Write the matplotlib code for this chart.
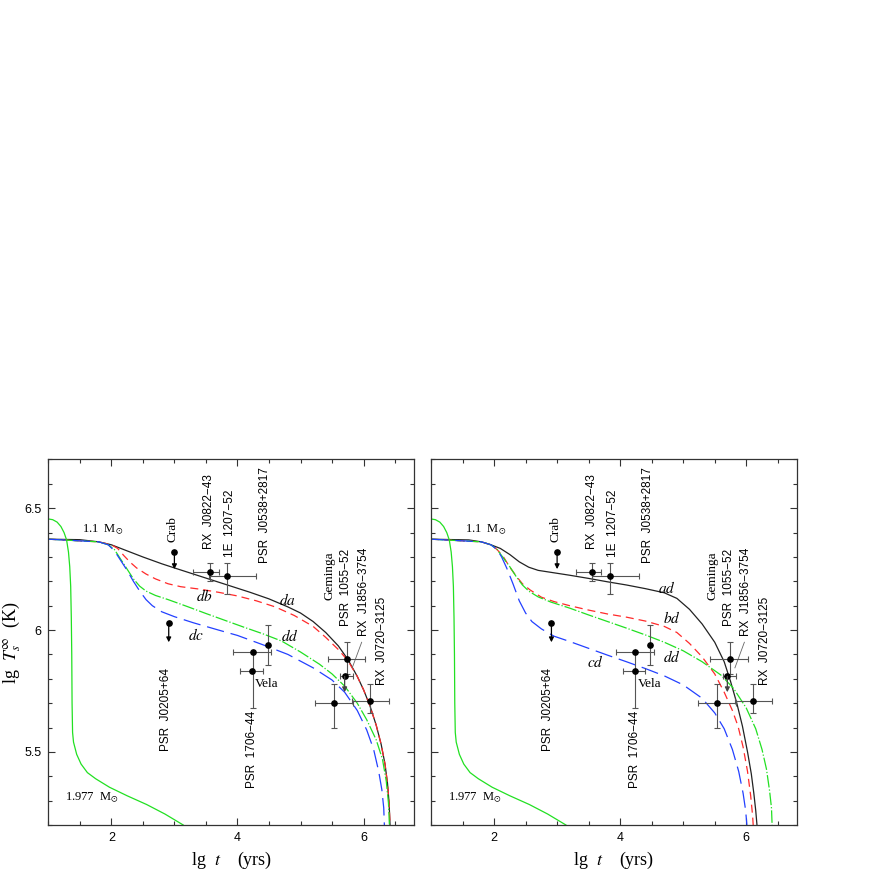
import matplotlib
matplotlib.use('Agg')
import matplotlib.pyplot as plt
from matplotlib.ticker import MultipleLocator, FuncFormatter

plt.rcParams['mathtext.fontset'] = 'stix'
plt.rcParams['font.family'] = ['Liberation Sans', 'DejaVu Sans']

SERIF = ['Liberation Serif', 'DejaVu Serif']

# наблюдения (lg t, lg Ts)
obs_name = ['Crab', 'PSR J0205+64', 'RX J0822-43', '1E 1207-52', 'PSR J0538+2817', 'Vela',
            'PSR 1706-44', 'Geminga', 'RX J1856-3754', 'PSR 1055-52', 'RX J0720-3125']
obs_lgt = [3.00, 2.91, 3.56, 3.84, 4.48, 4.23, 4.24, 5.53, 5.70, 5.74, 6.11]
obs_t_lo = [None, None, 3.30, 3.55, None, 4.04, 3.93, 5.23, 5.63, 5.43, 5.82]
obs_t_hi = [None, None, 3.70, 4.30, None, 4.40, 4.53, 5.84, 5.84, 6.03, 6.41]
obs_lgT = [6.32, 6.03, 6.24, 6.22, 5.94, 5.83, 5.91, 5.70, 5.81, 5.88, 5.71]
obs_T_lo = [None, None, 6.20, 6.15, 5.855, None, 5.68, 5.60, None, 5.82, 5.66]
obs_T_hi = [None, None, 6.275, 6.275, 6.02, None, 5.91, 5.78, None, 5.95, 5.78]
obs_limit = [6.25, 5.95, None, None, None, None, None, None, 5.745, None, None]

# левая панель: 1.1 Msun, модели da, db, dc, dd
da_t = [1.0, 1.5, 1.8, 2.0, 2.2, 2.5, 2.8, 3.0, 3.3, 3.6, 3.9, 4.2, 4.5, 4.8, 5.0, 5.2, 5.4,
        5.6, 5.75, 5.9, 6.0, 6.1, 6.2, 6.28, 6.34, 6.38, 6.405, 6.42]
da_T = [6.373, 6.371, 6.362, 6.35, 6.33, 6.30, 6.272, 6.255, 6.23, 6.205, 6.18, 6.155, 6.128,
        6.095, 6.07, 6.035, 5.99, 5.935, 5.88, 5.81, 5.755, 5.69, 5.61, 5.53, 5.45, 5.37,
        5.29, 5.2]
db_t = [1.0, 1.8, 2.0, 2.1, 2.2, 2.3, 2.4, 2.55, 2.7, 2.9, 3.1, 3.4, 3.7, 4.0, 4.3, 4.6, 4.9,
        5.2, 5.4, 5.6, 5.75, 5.9, 6.0, 6.1, 6.2, 6.28, 6.34, 6.38, 6.405, 6.42]
db_T = [6.373, 6.362, 6.35, 6.335, 6.305, 6.278, 6.255, 6.23, 6.21, 6.19, 6.178, 6.168, 6.155,
        6.14, 6.12, 6.095, 6.06, 6.015, 5.97, 5.92, 5.875, 5.81, 5.755, 5.69, 5.61, 5.53,
        5.45, 5.37, 5.29, 5.2]
dc_t = [1.0, 1.8, 1.95, 2.05, 2.15, 2.25, 2.35, 2.45, 2.55, 2.65, 2.8, 3.0, 3.3, 3.7, 4.0,
        4.4, 4.8, 5.2, 5.5, 5.7, 5.9, 6.05, 6.16, 6.24, 6.29, 6.32, 6.33]
dc_T = [6.373, 6.362, 6.35, 6.325, 6.285, 6.245, 6.20, 6.16, 6.125, 6.10, 6.075, 6.055, 6.03,
        6.0, 5.978, 5.94, 5.90, 5.845, 5.795, 5.745, 5.67, 5.59, 5.51, 5.42, 5.345, 5.27, 5.2]
dd_t = [1.0, 1.8, 1.95, 2.05, 2.15, 2.25, 2.35, 2.45, 2.55, 2.7, 2.9, 3.2, 3.5, 3.8, 4.1, 4.4,
        4.7, 5.0, 5.3, 5.5, 5.7, 5.9, 6.05, 6.2, 6.3, 6.36, 6.395, 6.41]
dd_T = [6.373, 6.362, 6.35, 6.33, 6.29, 6.25, 6.21, 6.18, 6.16, 6.142, 6.125, 6.097, 6.068,
        6.04, 6.012, 5.985, 5.955, 5.91, 5.86, 5.82, 5.77, 5.70, 5.632, 5.55, 5.47, 5.38,
        5.29, 5.2]

# правая панель: модели ad, bd, cd, dd
ad_t = [1.0, 1.6, 1.8, 1.95, 2.1, 2.25, 2.4, 2.55, 2.7, 2.9, 3.2, 3.5, 3.8, 4.1, 4.4, 4.7,
        4.9, 5.1, 5.3, 5.5, 5.65, 5.75, 5.85, 5.94, 6.02, 6.08, 6.12, 6.15, 6.17]
ad_T = [6.373, 6.37, 6.362, 6.35, 6.335, 6.31, 6.28, 6.258, 6.245, 6.237, 6.225, 6.212, 6.198,
        6.185, 6.17, 6.153, 6.13, 6.085, 6.025, 5.95, 5.87, 5.79, 5.70, 5.605, 5.50, 5.41,
        5.33, 5.26, 5.2]
bd_t = [1.0, 1.8, 1.95, 2.05, 2.15, 2.25, 2.35, 2.45, 2.57, 2.75, 2.95, 3.2, 3.5, 3.8, 4.1,
        4.4, 4.7, 4.9, 5.1, 5.3, 5.5, 5.65, 5.78, 5.87, 5.95, 6.02, 6.07, 6.1, 6.11]
bd_T = [6.373, 6.362, 6.35, 6.33, 6.30, 6.258, 6.222, 6.19, 6.165, 6.135, 6.117, 6.10, 6.082,
        6.066, 6.053, 6.037, 6.015, 5.99, 5.945, 5.89, 5.82, 5.745, 5.67, 5.605, 5.52, 5.42,
        5.32, 5.24, 5.2]
cd_t = [1.0, 1.8, 1.95, 2.05, 2.12, 2.2, 2.3, 2.4, 2.5, 2.6, 2.75, 2.95, 3.2, 3.5, 3.8, 4.1,
        4.4, 4.7, 5.0, 5.3, 5.5, 5.65, 5.78, 5.88, 5.95, 5.99, 6.01]
cd_T = [6.373, 6.362, 6.35, 6.33, 6.30, 6.255, 6.19, 6.12, 6.07, 6.035, 6.005, 5.975, 5.953,
        5.925, 5.897, 5.87, 5.842, 5.812, 5.775, 5.72, 5.66, 5.595, 5.51, 5.42, 5.33, 5.26, 5.2]
dd2_t = [1.0, 1.8, 1.95, 2.05, 2.15, 2.25, 2.35, 2.45, 2.55, 2.7, 2.9, 3.2, 3.5, 3.8, 4.1,
         4.4, 4.7, 5.0, 5.3, 5.6, 5.8, 6.0, 6.15, 6.25, 6.32, 6.37, 6.4, 6.41]
dd2_T = [6.373, 6.362, 6.35, 6.33, 6.295, 6.26, 6.22, 6.185, 6.16, 6.136, 6.115, 6.09, 6.062,
         6.035, 6.008, 5.98, 5.95, 5.915, 5.87, 5.815, 5.76, 5.68, 5.595, 5.51, 5.43, 5.34,
         5.27, 5.2]

# 1.977 Msun (одинакова на обеих панелях)
m2_t = [1.0, 1.07, 1.14, 1.2, 1.25, 1.29, 1.32, 1.34, 1.355, 1.365, 1.372, 1.377, 1.385, 1.40,
        1.45, 1.52, 1.62, 1.75, 1.97, 2.25, 2.56, 2.85, 3.14]
m2_T = [6.456, 6.453, 6.443, 6.425, 6.40, 6.37, 6.32, 6.26, 6.18, 6.05, 5.9, 5.7, 5.58, 5.54,
        5.49, 5.45, 5.415, 5.39, 5.355, 5.32, 5.284, 5.245, 5.2]

RED = '#ff2a2a'
GREEN = '#22e022'
BLUE = '#2340ff'
LW = 0.9


def draw_obs(ax):
    for i in range(len(obs_name)):
        x, y = obs_lgt[i], obs_lgT[i]
        xerr = None
        yerr = None
        if obs_t_lo[i] is not None:
            xerr = [[x - obs_t_lo[i]], [obs_t_hi[i] - x]]
        if obs_T_lo[i] is not None:
            yerr = [[y - obs_T_lo[i]], [obs_T_hi[i] - y]]
        ax.errorbar([x], [y], xerr=xerr, yerr=yerr, fmt='o', ms=3.8, mfc='k', mec='k',
                    ecolor='#555555', elinewidth=0.8, capsize=2, capthick=0.8, zorder=5)
        if obs_limit[i] is not None:
            col = 'k' if xerr is None else '#444444'
            ax.annotate('', xy=(x, obs_limit[i]), xytext=(x, y),
                        arrowprops=dict(arrowstyle='-|>', color=col, lw=0.9,
                                        mutation_scale=7, shrinkA=0, shrinkB=0), zorder=6)
    # подписи источников
    ax.text(2.97, 6.363, 'Crab', rotation=90, ha='center', va='bottom', family=SERIF, fontsize=9.5)
    ax.text(3.55, 6.333, 'RX  J0822\u221243', rotation=90, ha='center', va='bottom', fontsize=8.5)
    ax.text(3.88, 6.30, '1E  1207\u221252', rotation=90, ha='center', va='bottom', fontsize=8.5)
    ax.text(4.44, 6.275, 'PSR  J0538+2817', rotation=90, ha='center', va='bottom', fontsize=8.5)
    ax.text(5.46, 6.124, 'Geminga', rotation=90, ha='center', va='bottom', family=SERIF, fontsize=9.5)
    ax.text(5.72, 6.015, 'PSR  1055\u221252', rotation=90, ha='center', va='bottom', fontsize=8.5)
    ax.text(6.0, 5.974, 'RX  J1856\u22123754', rotation=90, ha='center', va='bottom', fontsize=8.5)
    ax.text(6.29, 5.776, 'RX  J0720\u22123125', rotation=90, ha='center', va='bottom', fontsize=8.5)
    ax.text(2.86, 5.503, 'PSR  J0205+64', rotation=90, ha='center', va='bottom', fontsize=8.5)
    ax.text(4.235, 5.352, 'PSR  1706\u221244', rotation=90, ha='center', va='bottom', fontsize=8.5)
    ax.text(4.28, 5.78, 'Vela', ha='left', va='center', family=SERIF, fontsize=9.5)
    ax.plot([5.97, 5.82], [5.95, 5.845], color='#666666', lw=0.6)

    ax.text(1.86, 6.41, r'1.1  M$_{\odot}$', ha='center', va='center', family=SERIF, fontsize=9)
    ax.text(1.69, 5.314, r'1.977  M$_{\odot}$', ha='center', va='center', family=SERIF, fontsize=9)
    ax.plot(m2_t, m2_T, color=GREEN, lw=LW)


def style_axes(ax, show_y):
    ax.set_xlim(1.0, 6.8)
    ax.set_ylim(5.2, 6.7)
    ax.xaxis.set_major_locator(MultipleLocator(2))
    ax.xaxis.set_minor_locator(MultipleLocator(0.5))
    ax.yaxis.set_major_locator(MultipleLocator(0.5))
    ax.yaxis.set_minor_locator(MultipleLocator(0.1))
    ax.xaxis.set_major_formatter(FuncFormatter(lambda v, p: '%g' % v))
    ax.yaxis.set_major_formatter(FuncFormatter(lambda v, p: '%g' % v))
    ax.tick_params(which='both', direction='in', top=True, right=True, width=0.8,
                   color='#333333', labelsize=9, pad=5)
    ax.tick_params(which='major', length=5)
    ax.tick_params(which='minor', length=3)
    if not show_y:
        ax.tick_params(labelleft=False)
    for s in ax.spines.values():
        s.set_linewidth(0.9)
        s.set_color('#333333')
    ax.set_xlabel(r'lg  $t$    (yrs)', family=SERIF, fontsize=13, labelpad=4)


fig = plt.figure(figsize=(8.72, 8.72), dpi=100, facecolor='w')
ax1 = fig.add_axes([48.3 / 872, 47 / 872, 365.7 / 872, 365.5 / 872])
ax2 = fig.add_axes([431 / 872, 47 / 872, 365.7 / 872, 365.5 / 872])

# левая панель
ax1.plot(da_t, da_T, color='#222222', lw=LW)
ax1.plot(db_t, db_T, color=RED, lw=LW, dashes=(6.4, 4))
ax1.plot(dd_t, dd_T, color=GREEN, lw=LW, dashes=(10, 1.6, 1, 1.6))
ax1.plot(dc_t, dc_T, color=BLUE, lw=LW, dashes=(14, 5.5))
ax1.text(4.79, 6.125, r'$da$', ha='center', va='center', fontsize=11)
ax1.text(3.48, 6.14, r'$db$', ha='center', va='center', fontsize=11)
ax1.text(3.35, 5.98, r'$dc$', ha='center', va='center', fontsize=11)
ax1.text(4.83, 5.975, r'$dd$', ha='center', va='center', fontsize=11)
draw_obs(ax1)
style_axes(ax1, True)
ax1.set_ylabel(r'lg  $T_{s}^{\infty}$  (K)', family=SERIF, fontsize=13, va='center')
ax1.yaxis.set_label_coords(-0.10, 0.5)

# правая панель
ax2.plot(ad_t, ad_T, color='#222222', lw=LW)
ax2.plot(bd_t, bd_T, color=RED, lw=LW, dashes=(6.4, 4))
ax2.plot(dd2_t, dd2_T, color=GREEN, lw=LW, dashes=(10, 1.6, 1, 1.6))
ax2.plot(cd_t, cd_T, color=BLUE, lw=LW, dashes=(14, 5.5))
ax2.text(4.74, 6.172, r'$ad$', ha='center', va='center', fontsize=11)
ax2.text(4.82, 6.05, r'$bd$', ha='center', va='center', fontsize=11)
ax2.text(3.60, 5.87, r'$cd$', ha='center', va='center', fontsize=11)
ax2.text(4.82, 5.89, r'$dd$', ha='center', va='center', fontsize=11)
draw_obs(ax2)
style_axes(ax2, False)

plt.savefig('out.png', dpi=100, facecolor='w')
